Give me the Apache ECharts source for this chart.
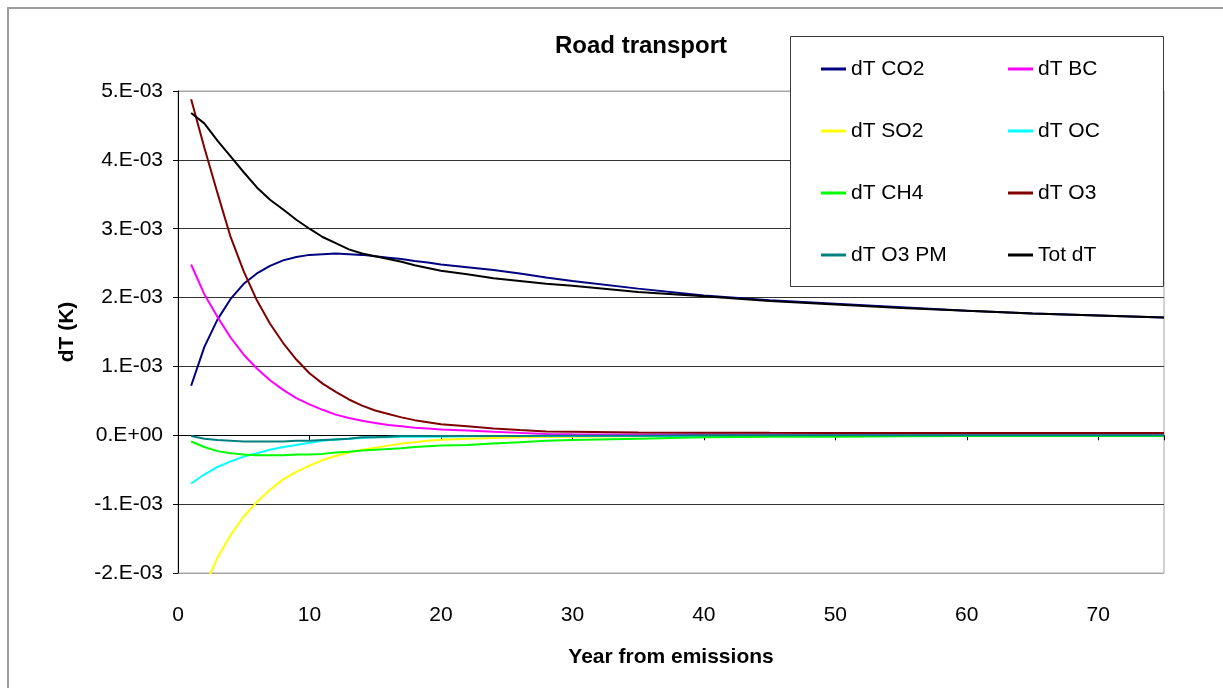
<!DOCTYPE html>
<html>
<head>
<meta charset="utf-8">
<script src="https://cdn.jsdelivr.net/npm/echarts@6/dist/echarts.min.js"></script>
<style>
  html, body { margin: 0; padding: 0; background: #fff; }
  #chart { width: 1223px; height: 688px; }
</style>
</head>
<body>
<div id="chart"></div>
<script>
// Temperature response (K) to road transport emissions, by year after emission
const years = [1, 2, 3, 4, 5, 6, 7, 8, 9, 10, 11, 12, 13, 14, 15, 16, 17, 18, 19, 20,
  22, 24, 26, 28, 30, 35, 40, 45, 50, 55, 60, 65, 70, 75];

const dtCO2 = [0.72, 1.28, 1.68, 1.98, 2.20, 2.35, 2.46, 2.54, 2.59, 2.62, 2.63, 2.64, 2.63, 2.62, 2.60, 2.58, 2.56, 2.53, 2.51, 2.48,
  2.44, 2.40, 2.35, 2.29, 2.24, 2.13, 2.03, 1.96, 1.91, 1.86, 1.81, 1.77, 1.74, 1.71];
const dtBC = [2.48, 2.05, 1.72, 1.42, 1.17, 0.97, 0.80, 0.66, 0.54, 0.45, 0.37, 0.30, 0.25, 0.21, 0.18, 0.15, 0.13, 0.11, 0.10, 0.085,
  0.07, 0.05, 0.035, 0.02, 0.015, 0.01, 0.01, 0.01, 0.01, 0.01, 0.01, 0.01, 0.01, 0.01];
const dtSO2 = [-2.65, -2.20, -1.78, -1.45, -1.18, -0.97, -0.79, -0.64, -0.53, -0.44, -0.36, -0.30, -0.25, -0.21, -0.18, -0.15, -0.12, -0.10, -0.08, -0.065,
  -0.05, -0.04, -0.03, -0.025, -0.02, -0.015, -0.01, -0.01, -0.01, -0.01, -0.01, -0.01, -0.01, -0.01];
const dtOC = [-0.70, -0.57, -0.46, -0.38, -0.31, -0.26, -0.21, -0.17, -0.14, -0.11, -0.08, -0.06, -0.05, -0.04, -0.03, -0.03, -0.02, -0.02, -0.02, -0.02,
  -0.015, -0.01, -0.01, -0.01, -0.01, -0.01, -0.01, -0.005, -0.005, -0.005, -0.005, -0.005, -0.005, -0.005];
const dtCH4 = [-0.09, -0.17, -0.23, -0.26, -0.28, -0.29, -0.29, -0.29, -0.28, -0.28, -0.27, -0.25, -0.24, -0.22, -0.21, -0.20, -0.19, -0.17, -0.16, -0.15,
  -0.14, -0.12, -0.10, -0.08, -0.07, -0.05, -0.03, -0.02, -0.02, -0.015, -0.01, -0.01, -0.01, -0.01];
const dtO3 = [4.88, 4.18, 3.52, 2.88, 2.38, 1.96, 1.62, 1.34, 1.10, 0.90, 0.75, 0.63, 0.52, 0.43, 0.36, 0.31, 0.26, 0.22, 0.19, 0.16,
  0.13, 0.10, 0.075, 0.055, 0.05, 0.04, 0.038, 0.036, 0.035, 0.035, 0.035, 0.035, 0.035, 0.035];
const dtO3PM = [-0.01, -0.05, -0.07, -0.08, -0.09, -0.09, -0.09, -0.09, -0.08, -0.08, -0.07, -0.06, -0.05, -0.03, -0.03, -0.02, -0.01, -0.01, -0.01, -0.01,
  -0.01, -0.01, -0.01, -0.005, -0.005, -0.005, 0, 0, 0, 0, 0, 0, 0, 0];
const totDT = [4.68, 4.53, 4.28, 4.05, 3.82, 3.60, 3.42, 3.28, 3.13, 3.00, 2.88, 2.79, 2.70, 2.64, 2.60, 2.56, 2.52, 2.47, 2.43, 2.39,
  2.34, 2.28, 2.24, 2.20, 2.17, 2.08, 2.02, 1.95, 1.90, 1.85, 1.81, 1.77, 1.74, 1.71];

const seriesNames = ['dT CO2', 'dT BC', 'dT SO2', 'dT OC', 'dT CH4', 'dT O3', 'dT O3 PM', 'Tot dT'];
const seriesValues = [dtCO2, dtBC, dtSO2, dtOC, dtCH4, dtO3, dtO3PM, totDT];
const seriesColors = ['#000080', '#ff00ff', '#ffff00', '#00ffff', '#00ff00', '#800000', '#008080', '#000000'];

const legendLeftColumn = ['dT CO2', 'dT SO2', 'dT CH4', 'dT O3 PM'];
const legendRightColumn = ['dT BC', 'dT OC', 'dT O3', 'Tot dT'];

// values above are in units of 1e-3 K
const UNIT = 1e-3;

const FONT = '"Liberation Sans", Arial, sans-serif';

function sciLabel(v) {
  const m = Math.round(v / UNIT);
  if (m === 0) return '0.E+00';
  return m + '.E-03';
}

const series = seriesNames.map((name, i) => ({
  name: name,
  type: 'line',
  symbol: 'none',
  clip: true,
  color: seriesColors[i],
  lineStyle: { width: 2, color: seriesColors[i] },
  data: years.map((y, k) => [y, seriesValues[i][k] * UNIT]),
  z: 2 + i * 0.01
}));

const legendCommon = {
  orient: 'vertical',
  top: 57,
  padding: 0,
  itemWidth: 25,
  itemHeight: 14,
  itemGap: 38,
  selectedMode: false,
  icon: 'path://M0,6L25,6L25,9L0,9Z',
  textStyle: { fontFamily: FONT, fontSize: 21, color: '#000', lineHeight: 24 },
  z: 10
};

const xRange = { type: 'value', min: 0, max: 75, interval: 10 };

const chart = echarts.init(document.getElementById('chart'), null, { renderer: 'canvas' });
chart.setOption({
  animation: false,
  backgroundColor: '#ffffff',
  title: {
    text: 'Road transport',
    left: 555,
    top: 34,
    padding: 0,
    textStyle: { fontFamily: FONT, fontSize: 24, fontWeight: 'bold', color: '#000' }
  },
  legend: [
    Object.assign({}, legendCommon, { left: 821, data: legendLeftColumn }),
    Object.assign({}, legendCommon, { left: 1008, data: legendRightColumn })
  ],
  graphic: [
    {
      type: 'rect',
      shape: { x: 8, y: 8, width: 1400, height: 900 },
      style: { fill: null, stroke: '#9c9c9c', lineWidth: 2 },
      z: 20
    },
    {
      type: 'rect',
      shape: { x: 790.5, y: 36.5, width: 373, height: 250 },
      style: { fill: '#ffffff', stroke: '#3a3a3a', lineWidth: 1 },
      z: 5
    }
  ],
  grid: {
    left: 178,
    right: 59,
    top: 91,
    bottom: 115,
    outerBoundsMode: 'none',
    containLabel: false,
    show: true,
    borderColor: '#a6a6a6',
    borderWidth: 1,
    backgroundColor: '#ffffff'
  },
  xAxis: [
    // axis line through zero, with its tick marks
    Object.assign({}, xRange, {
      position: 'bottom',
      axisLine: { show: true, onZero: true, onZeroAxisIndex: 0, lineStyle: { color: '#000', width: 1 } },
      axisTick: { show: true, length: 5, lineStyle: { color: '#000' } },
      axisLabel: { show: false },
      splitLine: { show: false }
    }),
    // year labels and title along the bottom edge
    Object.assign({}, xRange, {
      position: 'bottom',
      axisLine: { show: false, onZero: false },
      axisTick: { show: false },
      axisLabel: {
        fontFamily: FONT, fontSize: 21, color: '#000', margin: 32,
        showMaxLabel: false
      },
      splitLine: { show: false },
      name: 'Year from emissions',
      nameLocation: 'middle',
      nameGap: 74,
      nameTextStyle: { fontFamily: FONT, fontSize: 21, fontWeight: 'bold', color: '#000' }
    })
  ],
  yAxis: {
    type: 'value',
    min: -2 * UNIT,
    max: 5 * UNIT,
    interval: UNIT,
    axisLine: { show: true, onZero: false, lineStyle: { color: '#000', width: 1 } },
    axisTick: { show: true, length: 5, lineStyle: { color: '#000' } },
    axisLabel: {
      fontFamily: FONT, fontSize: 21, color: '#000', margin: 15,
      formatter: sciLabel
    },
    splitLine: {
      show: true,
      lineStyle: {
        color: ['#a6a6a6', '#333333', '#333333', '#333333', '#333333', '#333333', '#333333', '#a6a6a6'],
        width: 1
      }
    },
    name: 'dT (K)',
    nameLocation: 'middle',
    nameRotate: 90,
    nameGap: 100,
    nameTextStyle: { fontFamily: FONT, fontSize: 21, fontWeight: 'bold', color: '#000' }
  },
  series: series
});
</script>
</body>
</html>
